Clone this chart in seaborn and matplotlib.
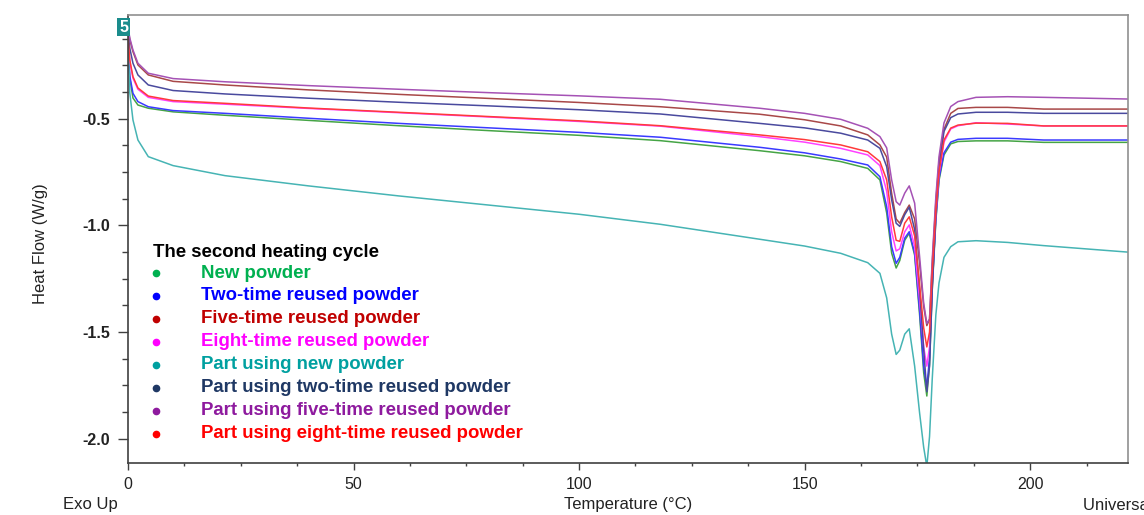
import matplotlib
matplotlib.use("Agg")
import matplotlib.pyplot as plt
from matplotlib.ticker import MultipleLocator, FormatStrFormatter
import numpy as np
import pandas as pd
import seaborn as sns

# Temperature grid (°C) shared by all DSC traces
temperature = [0, 0.4, 1.1, 2.2, 4.5, 10, 21.5, 40, 60, 80, 100, 118, 140, 150, 158,
               164, 166.7, 168.2, 169.3, 170.3, 171.1, 172.2, 173.2, 174.4, 175.5,
               176.4, 177.1, 177.7, 178.3, 179.1, 179.8, 180.9, 182.4, 184, 188,
               195, 203, 222]

# Heat flow (W/g), second heating cycle
new_powder = [-0.16, -0.31, -0.403, -0.436, -0.451, -0.468, -0.484, -0.508, -0.533, -0.556,
              -0.578, -0.603, -0.65, -0.674, -0.701, -0.733, -0.787, -0.942, -1.13, -1.20,
              -1.165, -1.07, -1.037, -1.14, -1.42, -1.69, -1.80, -1.65, -1.30, -0.98,
              -0.79, -0.67, -0.618, -0.607, -0.604, -0.604, -0.611, -0.611]
two_time = [-0.15, -0.30, -0.381, -0.42, -0.444, -0.462, -0.475, -0.498, -0.522, -0.543,
            -0.564, -0.587, -0.634, -0.66, -0.689, -0.717, -0.772, -0.913, -1.10, -1.178,
            -1.15, -1.06, -1.03, -1.13, -1.40, -1.66, -1.76, -1.62, -1.28, -0.97,
            -0.78, -0.66, -0.61, -0.597, -0.592, -0.592, -0.60, -0.60]
five_time = [-0.075, -0.13, -0.186, -0.248, -0.295, -0.325, -0.342, -0.365, -0.386, -0.405,
             -0.424, -0.444, -0.479, -0.505, -0.534, -0.576, -0.623, -0.68, -0.85, -0.97,
             -0.99, -0.94, -0.905, -0.97, -1.18, -1.38, -1.47, -1.44, -1.18, -0.89,
             -0.70, -0.55, -0.475, -0.452, -0.447, -0.447, -0.455, -0.455]
eight_time = [-0.13, -0.235, -0.31, -0.362, -0.40, -0.42, -0.432, -0.452, -0.472, -0.492,
              -0.513, -0.535, -0.584, -0.61, -0.639, -0.67, -0.72, -0.84, -1.03, -1.12,
              -1.11, -1.03, -0.998, -1.10, -1.35, -1.57, -1.66, -1.57, -1.25, -0.95,
              -0.76, -0.61, -0.548, -0.533, -0.519, -0.525, -0.534, -0.534]
part_new = [-0.12, -0.38, -0.506, -0.60, -0.678, -0.72, -0.767, -0.815, -0.862, -0.905,
            -0.948, -0.995, -1.065, -1.097, -1.131, -1.175, -1.225, -1.34, -1.51, -1.605,
            -1.585, -1.51, -1.485, -1.66, -1.88, -2.04, -2.13, -1.99, -1.72, -1.42,
            -1.27, -1.15, -1.10, -1.077, -1.072, -1.08, -1.095, -1.126]
part_two = [-0.10, -0.17, -0.24, -0.295, -0.342, -0.368, -0.384, -0.404, -0.423, -0.44,
            -0.458, -0.478, -0.522, -0.543, -0.568, -0.60, -0.639, -0.725, -0.88, -0.99,
            -1.005, -0.95, -0.915, -1.02, -1.30, -1.58, -1.78, -1.66, -1.30, -0.95,
            -0.73, -0.56, -0.495, -0.478, -0.47, -0.47, -0.475, -0.475]
part_five = [-0.07, -0.122, -0.178, -0.24, -0.287, -0.312, -0.327, -0.345, -0.362, -0.378,
             -0.393, -0.409, -0.451, -0.475, -0.503, -0.545, -0.584, -0.637, -0.787, -0.889,
             -0.905, -0.849, -0.815, -0.896, -1.147, -1.364, -1.46, -1.44, -1.16, -0.866,
             -0.678, -0.52, -0.443, -0.42, -0.40, -0.397, -0.40, -0.408]
part_eight = [-0.12, -0.225, -0.303, -0.356, -0.394, -0.415, -0.428, -0.45, -0.47, -0.49,
              -0.51, -0.533, -0.576, -0.598, -0.623, -0.655, -0.701, -0.787, -0.96, -1.07,
              -1.075, -0.99, -0.96, -1.05, -1.28, -1.48, -1.57, -1.50, -1.22, -0.93,
              -0.75, -0.60, -0.544, -0.53, -0.521, -0.522, -0.534, -0.534]

labels = ["New powder", "Two-time reused powder", "Five-time reused powder",
          "Eight-time reused powder", "Part using new powder",
          "Part using two-time reused powder", "Part using five-time reused powder",
          "Part using eight-time reused powder"]
values = [new_powder, two_time, five_time, eight_time,
          part_new, part_two, part_five, part_eight]
line_colors = ["#45a445", "#3a3aff", "#a84848", "#ff40ff",
               "#46b4b4", "#4a4a9e", "#a552b5", "#ff3a3a"]
text_colors = ["#00b050", "#0000ff", "#c00000", "#ff00ff",
               "#00a0a0", "#1f3864", "#8e1a9e", "#ff0000"]

df = pd.concat(
    [pd.DataFrame({"Temperature": temperature, "Heat Flow": v, "Sample": lab})
     for lab, v in zip(labels, values)],
    ignore_index=True,
)

sns.set_style("white")
plt.rcParams["font.family"] = ["Liberation Sans", "DejaVu Sans"]
plt.rcParams["axes.unicode_minus"] = False

fig = plt.figure(figsize=(11.44, 5.15), dpi=100)
ax = fig.add_axes([128 / 1144, 52 / 515, 1000 / 1144, 448 / 515])

sns.lineplot(data=df, x="Temperature", y="Heat Flow", hue="Sample",
             hue_order=labels, palette=dict(zip(labels, line_colors)),
             linewidth=1.1, legend=False, ax=ax, estimator=None)

ax.set_xlim(0, 221.7)
ax.set_ylim(-2.114, -0.014)
ax.xaxis.set_major_locator(MultipleLocator(50))
ax.xaxis.set_minor_locator(MultipleLocator(12.5))
ax.yaxis.set_major_locator(MultipleLocator(0.5))
ax.yaxis.set_minor_locator(MultipleLocator(0.125))
ax.yaxis.set_major_formatter(FormatStrFormatter("%.1f"))
ax.xaxis.set_major_formatter(FormatStrFormatter("%d"))
ax.tick_params(axis="x", which="major", direction="out", length=5, width=1,
               color="#404040", labelsize=11.5, labelcolor="#222222", pad=5)
ax.tick_params(axis="x", which="minor", direction="out", length=2.5, width=1,
               color="#404040")
ax.tick_params(axis="y", which="major", direction="out", length=7.2, width=1,
               color="#404040", labelsize=11.5, labelcolor="#222222", pad=5.5)
ax.tick_params(axis="y", which="minor", direction="out", length=4, width=1,
               color="#404040")
ax.tick_params(left=True, bottom=True, which="both")
for lab in ax.get_yticklabels():
    lab.set_fontweight("bold")

for side in ["left", "bottom"]:
    ax.spines[side].set_color("#404040")
    ax.spines[side].set_linewidth(1.2)
for side in ["top", "right"]:
    ax.spines[side].set_color("#909090")
    ax.spines[side].set_linewidth(1.2)

ax.set_xlabel("")
ax.set_ylabel("")
fig.text(40 / 1144, 1 - 244 / 515, "Heat Flow (W/g)", ha="center", va="center",
         rotation=90, fontsize=12, color="#222222")
fig.text(628 / 1144, 1 - 505 / 515, "Temperature (°C)", ha="center", va="center",
         fontsize=12, color="#222222")
fig.text(63 / 1144, 1 - 505 / 515, "Exo Up", ha="left", va="center",
         fontsize=12, color="#222222")
fig.text(1083 / 1144, 1 - 505 / 515, "Universal V4.5A TA Instruments", ha="left",
         va="center", fontsize=12, color="#222222")

# Curve-set index badge in the upper-left corner
fig.text(123.5 / 1144, 1 - 27 / 515, "5", ha="center", va="center", fontsize=11.5,
         fontweight="bold", color="white",
         bbox=dict(boxstyle="square,pad=0.12", facecolor="#1a8c8c", edgecolor="none"))

# Legend block: title, then a bullet and coloured label per sample
ax.text(0.025, 0.469, "The second heating cycle", transform=ax.transAxes,
        fontsize=13.4, fontweight="bold", color="black", va="center", ha="left")
row_top, row_step = 0.424, 0.0512
for i, (lab, col) in enumerate(zip(labels, text_colors)):
    y = row_top - i * row_step
    ax.plot([0.028], [y], marker="o", markersize=4.5, color=col,
            transform=ax.transAxes, clip_on=False)
    ax.text(0.073, y, lab, transform=ax.transAxes, fontsize=13.4,
            fontweight="bold", color=col, va="center", ha="left")

fig.savefig("out.png", dpi=100)
